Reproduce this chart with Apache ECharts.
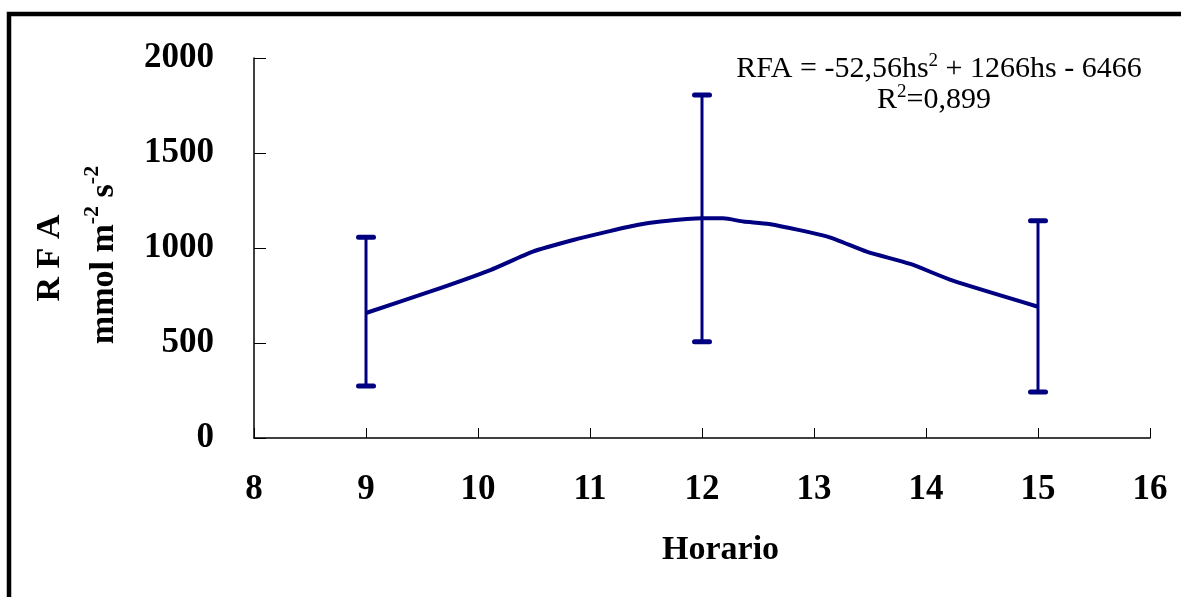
<!DOCTYPE html>
<html>
<head>
<meta charset="utf-8">
<script src="https://cdn.jsdelivr.net/npm/echarts@6/dist/echarts.min.js"></script>
<style>html,body{margin:0;padding:0;background:#fff}#c{width:1181px;height:597px}</style>
</head>
<body>
<div id="c"></div>
<script>
// Line data (hour, RFA)
var hours = [9, 9.57, 10.11, 10.49, 10.85, 11.12, 11.42, 11.63, 12, 12.19, 12.37, 12.6, 13.12, 13.47, 13.86, 14.24, 15];
var rfa   = [658, 770, 884, 981, 1042, 1081, 1121, 1139, 1156, 1156, 1139, 1126, 1060, 981, 916, 828, 691];
// Error bars
var errHours = [9, 12, 15];
var errLow   = [274, 507, 242];
var errHigh  = [1056, 1805, 1144];
// Axis ticks
var xTicks = [8, 9, 10, 11, 12, 13, 14, 15, 16];
var yTicks = [0, 500, 1000, 1500, 2000];

var NAVY = '#000080';
var SERIF = '"Liberation Serif", "Times New Roman", serif';

var chart = echarts.init(document.getElementById('c'));
var lineData = hours.map(function (h, i) { return [h, rfa[i]]; });
var errData = errHours.map(function (h, i) { return [h, errLow[i], errHigh[i]]; });

chart.setOption({
  animation: false,
  backgroundColor: '#fff',
  grid: { left: 254, right: 31, top: 58, bottom: 159, containLabel: false },
  xAxis: {
    type: 'value', min: xTicks[0], max: xTicks[xTicks.length - 1], interval: 1,
    axisLine: { show: true, onZero: false, lineStyle: { color: '#000', width: 1.5 } },
    axisTick: { show: true, inside: true, length: 10, lineStyle: { color: '#000', width: 1 } },
    splitLine: { show: false },
    axisLabel: { margin: 34, color: '#000', fontFamily: SERIF, fontWeight: 'bold', fontSize: 35,
      formatter: function (v) { return String(v); } }
  },
  yAxis: {
    type: 'value', min: yTicks[0], max: yTicks[yTicks.length - 1], interval: 500,
    axisLine: { show: true, onZero: false, lineStyle: { color: '#000', width: 1.5 } },
    axisTick: { show: true, inside: true, length: 12, lineStyle: { color: '#000', width: 1 } },
    splitLine: { show: false },
    axisLabel: { margin: 40, color: '#000', fontFamily: SERIF, fontWeight: 'bold', fontSize: 35,
      formatter: function (v) { return String(v); } }
  },
  series: [
    {
      type: 'line', data: lineData, smooth: 0.2, symbol: 'none',
      lineStyle: { color: NAVY, width: 4 }, z: 3
    },
    {
      type: 'custom', data: errData, z: 4,
      renderItem: function (params, api) {
        var x = api.value(0);
        var lo = api.coord([x, api.value(1)]);
        var hi = api.coord([x, api.value(2)]);
        var hw = 9.5;
        var st = { stroke: NAVY, lineWidth: 3 };
        var cap = { stroke: NAVY, lineWidth: 5, lineCap: 'round' };
        return {
          type: 'group',
          children: [
            { type: 'line', shape: { x1: hi[0], y1: hi[1], x2: lo[0], y2: lo[1] }, style: st },
            { type: 'line', shape: { x1: hi[0] - hw + 2, y1: hi[1], x2: hi[0] + hw - 2, y2: hi[1] }, style: cap },
            { type: 'line', shape: { x1: lo[0] - hw + 2, y1: lo[1], x2: lo[0] + hw - 2, y2: lo[1] }, style: cap }
          ]
        };
      }
    }
  ],
  graphic: [
    { type: 'rect', shape: { x: 9, y: 14, width: 1300, height: 800 },
      style: { fill: 'none', stroke: '#000', lineWidth: 4.5 }, silent: true },
    { type: 'text', left: 722 - 60, top: 533,
      style: { text: 'Horario', font: 'bold 34px ' + SERIF, fill: '#000' } },
    { type: 'text', x: 33, y: 258, rotation: Math.PI / 2,
      style: { text: 'R F A', font: 'bold 34px ' + SERIF, fill: '#000', align: 'center', verticalAlign: 'top' } },
    { type: 'text', x: 81, y: 255, rotation: Math.PI / 2,
      style: {
        text: '{b|mmol m}{s|-2}{b| s}{s|-2}',
        align: 'center', verticalAlign: 'top',
        rich: {
          b: { font: 'bold 34px ' + SERIF, fill: '#000', lineHeight: 40, verticalAlign: 'bottom' },
          s: { font: 'bold 22px ' + SERIF, fill: '#000', lineHeight: 24, verticalAlign: 'top' }
        }
      } },
    { type: 'text', x: 939, y: 52,
      style: {
        text: '{n|RFA = -52,56hs}{s|2}{n| + 1266hs - 6466}',
        align: 'center', verticalAlign: 'top',
        rich: {
          n: { font: '30px ' + SERIF, fill: '#000', lineHeight: 32, verticalAlign: 'bottom' },
          s: { font: '19px ' + SERIF, fill: '#000', lineHeight: 20, verticalAlign: 'top' }
        }
      } },
    { type: 'text', x: 934, y: 83,
      style: {
        text: '{n|R}{s|2}{n|=0,899}',
        align: 'center', verticalAlign: 'top',
        rich: {
          n: { font: '30px ' + SERIF, fill: '#000', lineHeight: 32, verticalAlign: 'bottom' },
          s: { font: '19px ' + SERIF, fill: '#000', lineHeight: 20, verticalAlign: 'top' }
        }
      } }
  ]
});
</script>
</body>
</html>
